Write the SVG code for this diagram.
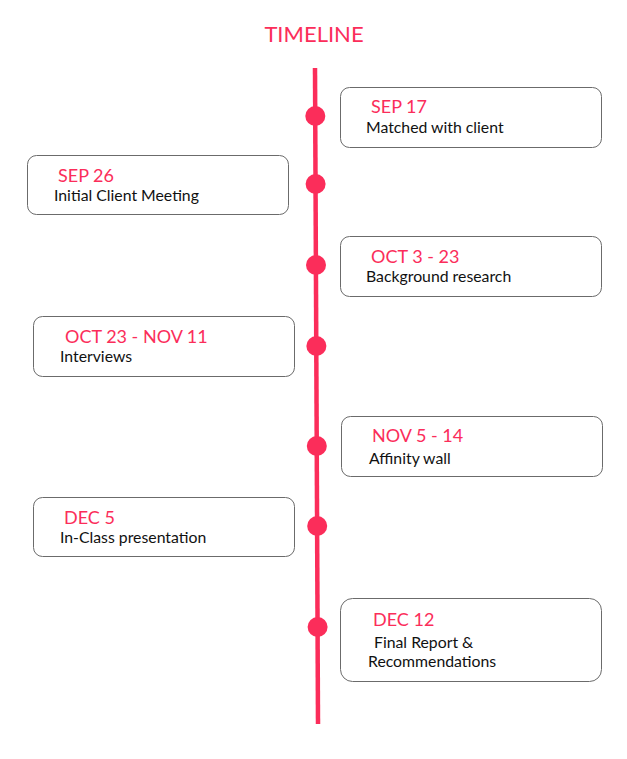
<svg xmlns="http://www.w3.org/2000/svg" width="627" height="759" viewBox="0 0 627 759">
<style>
.box{fill:#fff;stroke:#6b6b6b;stroke-width:1}
.date{font-family:Lato,"Liberation Sans",sans-serif;font-size:18px;fill:#fb2d5a}
.lbl{font-family:Lato,"Liberation Sans",sans-serif;font-size:15.8px;fill:#111}
.dot{fill:#fb2d5a}
</style>
<rect width="627" height="759" fill="#fff"/>
<text x="314" y="42" text-anchor="middle" font-family="Lato,'Liberation Sans',sans-serif" font-size="22" fill="#fb2d5a">TIMELINE</text>
<g id="connectors">
<line x1="315" y1="68" x2="318" y2="724" stroke="#fb2d5a" stroke-width="4.5"/>
</g>
<g id="dots">
<circle class="dot" cx="315.3" cy="116" r="10"/>
<circle class="dot" cx="315.6" cy="184" r="10"/>
<circle class="dot" cx="316" cy="265" r="10"/>
<circle class="dot" cx="316.4" cy="346" r="10"/>
<circle class="dot" cx="316.8" cy="446" r="10"/>
<circle class="dot" cx="317.2" cy="526" r="10"/>
<circle class="dot" cx="317.6" cy="627" r="10"/>
</g>
<g id="n1"><rect class="box" x="340.5" y="87.5" width="261" height="60" rx="9"/>
<text class="date" x="371" y="113">SEP 17</text><text class="lbl" x="366" y="133">Matched with client</text></g>
<g id="n2"><rect class="box" x="27.5" y="155.5" width="261" height="59" rx="9"/>
<text class="date" x="58" y="182">SEP 26</text><text class="lbl" x="54" y="201">Initial Client Meeting</text></g>
<g id="n3"><rect class="box" x="340.5" y="236.5" width="261" height="60" rx="9"/>
<text class="date" x="371" y="263">OCT 3 - 23</text><text class="lbl" x="366" y="282">Background research</text></g>
<g id="n4"><rect class="box" x="33.5" y="316.5" width="261" height="60" rx="9"/>
<text class="date" x="65" y="343">OCT 23 - NOV 11</text><text class="lbl" x="60" y="362">Interviews</text></g>
<g id="n5"><rect class="box" x="341.5" y="416.5" width="261" height="60" rx="9"/>
<text class="date" x="372" y="442">NOV 5 - 14</text><text class="lbl" x="369" y="464">Affinity wall</text></g>
<g id="n6"><rect class="box" x="33.5" y="497.5" width="261" height="59" rx="9"/>
<text class="date" x="64" y="524">DEC 5</text><text class="lbl" x="60" y="543">In-Class presentation</text></g>
<g id="n7"><rect class="box" x="340.5" y="598.5" width="261" height="83" rx="12"/>
<text class="date" x="373" y="626">DEC 12</text><text class="lbl" x="374" y="648">Final Report &amp;</text><text class="lbl" x="368" y="667">Recommendations</text></g>
</svg>
